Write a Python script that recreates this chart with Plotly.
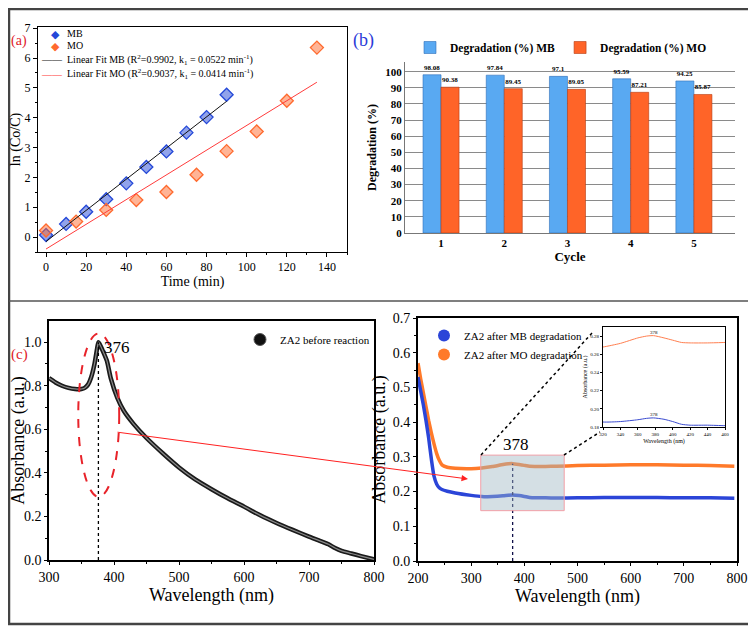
import plotly.graph_objects as go

# The page body adds an 8 px margin, so the figure is 748x619 and every
# reference pixel position p maps to figure pixel p - 8.
OFF = 8
W, H = 756 - OFF, 627 - OFF
def X(p): return (p - OFF) / W
def Y(p): return 1 - (p - OFF) / H

FONT = "Liberation Serif"
def F(size, color="black", weight=None):
    d = dict(family=FONT, size=size, color=color)
    if weight:
        d["weight"] = weight
    return d

# ---------------- (a) kinetics data ----------------
time_mb = [0, 10, 20, 30, 40, 50, 60, 70, 80, 90]
ln_mb = [0.07, 0.44, 0.85, 1.27, 1.80, 2.35, 2.87, 3.50, 4.02, 4.77]
time_mo = [0, 15, 30, 45, 60, 75, 90, 105, 120, 135]
ln_mo = [0.22, 0.52, 0.91, 1.24, 1.51, 2.09, 2.88, 3.54, 4.57, 6.35]
fit_mb_t = [0, 90]
fit_mb_y = [-0.15, 4.55]
fit_mo_t = [0, 135]
fit_mo_y = [-0.40, 5.19]
ln_ticks = [0, 1, 2, 3, 4, 5, 6, 7]

# ---------------- (b) recycling data ----------------
cycles = [1, 2, 3, 4, 5]
deg_mb = [98.08, 97.84, 97.1, 95.59, 94.25]
deg_mo = [90.38, 89.45, 89.05, 87.21, 85.87]

# ---------------- (c) UV-vis data ----------------
wl_before = [300, 310, 320, 330, 340, 350, 355, 360, 365, 370, 374, 376, 378, 382, 389,
             395, 405, 415, 430, 450, 475, 500, 525, 550, 575, 600, 625, 650, 675, 700,
             715, 730, 740, 750, 765, 780, 800]
abs_before = [0.835, 0.815, 0.800, 0.790, 0.785, 0.785, 0.790, 0.805, 0.840, 0.900, 0.970,
              1.000, 0.990, 0.965, 0.915, 0.835, 0.745, 0.685, 0.625, 0.560, 0.490, 0.425,
              0.370, 0.325, 0.283, 0.245, 0.205, 0.170, 0.138, 0.107, 0.090, 0.072, 0.055,
              0.042, 0.030, 0.018, 0.003]
peak_before = 376
peak_before_abs = 1.0

wl_after = [200, 205, 210, 215, 220, 225, 230, 235, 240, 245, 255, 270, 300, 320, 340,
            360, 370, 378, 390, 400, 410, 420, 440, 460, 500, 550, 600, 650, 700, 750, 795]
abs_mb_after = [0.530, 0.490, 0.450, 0.405, 0.355, 0.295, 0.245, 0.222, 0.211, 0.206,
                0.201, 0.196, 0.189, 0.1855, 0.186, 0.188, 0.1895, 0.190, 0.1885, 0.186,
                0.183, 0.182, 0.182, 0.1815, 0.182, 0.183, 0.183, 0.183, 0.182, 0.182, 0.181]
abs_mo_after = [0.570, 0.525, 0.485, 0.445, 0.405, 0.370, 0.338, 0.310, 0.290, 0.277,
                0.270, 0.267, 0.266, 0.268, 0.272, 0.278, 0.280, 0.2805, 0.278, 0.2755,
                0.273, 0.2725, 0.2725, 0.273, 0.275, 0.276, 0.277, 0.277, 0.276, 0.275, 0.273]
peak_after = 378
peak_after_abs = 0.28
zoom_box_x = [318, 475]
zoom_box_y = [0.145, 0.305]

C_MB = "#2448d8"
C_MO = "#ff6a2e"

fig = go.Figure()

# ---- (a) ----
fig.add_trace(go.Scatter(x=time_mb, y=ln_mb, mode="markers", xaxis="x", yaxis="y",
                         marker=dict(symbol="diamond", size=10, color="rgba(36,72,216,0.5)",
                                     line=dict(color=C_MB, width=1.3)), showlegend=False))
fig.add_trace(go.Scatter(x=time_mo, y=ln_mo, mode="markers", xaxis="x", yaxis="y",
                         marker=dict(symbol="diamond", size=10, color="rgba(255,106,46,0.5)",
                                     line=dict(color=C_MO, width=1.3)), showlegend=False))
fig.add_trace(go.Scatter(x=fit_mb_t, y=fit_mb_y, mode="lines", xaxis="x", yaxis="y",
                         line=dict(color="#111", width=1), showlegend=False))
fig.add_trace(go.Scatter(x=fit_mo_t, y=fit_mo_y, mode="lines", xaxis="x", yaxis="y",
                         line=dict(color="#ff3b3b", width=1), showlegend=False))

# ---- (b) ----
fig.add_trace(go.Bar(x=cycles, y=deg_mb, xaxis="x2", yaxis="y2", name="<b>Degradation (%) MB</b>",
                     marker=dict(color="#59a9f2", line=dict(color="#2f6fb8", width=0.6)),
                     text=[str(v) for v in deg_mb], textposition="outside", cliponaxis=False,
                     textfont=F(7, weight="bold"), legend="legend"))
fig.add_trace(go.Bar(x=cycles, y=deg_mo, xaxis="x2", yaxis="y2", name="<b>Degradation (%) MO</b>",
                     marker=dict(color="#ff6428", line=dict(color="#b53a10", width=0.6)),
                     text=[str(v) for v in deg_mo], textposition="outside", cliponaxis=False,
                     textfont=F(7, weight="bold"), legend="legend"))

# ---- (c) left ----
fig.add_trace(go.Scatter(x=wl_before, y=abs_before, mode="lines", xaxis="x3", yaxis="y3",
                         line=dict(color="#1a1a1a", width=4.5, shape="spline", smoothing=0.6),
                         showlegend=False))
fig.add_trace(go.Scatter(x=wl_before, y=abs_before, mode="lines", xaxis="x3", yaxis="y3",
                         line=dict(color="#8a8a8a", width=1.2, shape="spline", smoothing=0.6),
                         showlegend=False))
fig.add_trace(go.Scatter(x=[None], y=[None], mode="markers", xaxis="x3", yaxis="y3",
                         name="ZA2 before reaction", legend="legend2",
                         marker=dict(size=12, color="#111", line=dict(color="#555", width=1))))

# ---- (c) right ----
fig.add_trace(go.Scatter(x=wl_after, y=abs_mo_after, mode="lines", xaxis="x4", yaxis="y4",
                         line=dict(color="#ff7a2a", width=3.5, shape="spline", smoothing=0.5),
                         showlegend=False))
fig.add_trace(go.Scatter(x=wl_after, y=abs_mb_after, mode="lines", xaxis="x4", yaxis="y4",
                         line=dict(color="#2b45d8", width=3.5, shape="spline", smoothing=0.5),
                         showlegend=False))
fig.add_trace(go.Scatter(x=[None], y=[None], mode="markers", xaxis="x4", yaxis="y4",
                         name="ZA2 after MB degradation", legend="legend3",
                         marker=dict(size=12, color="#2b45d8")))
fig.add_trace(go.Scatter(x=[None], y=[None], mode="markers", xaxis="x4", yaxis="y4",
                         name="ZA2 after MO degradation", legend="legend3",
                         marker=dict(size=12, color="#ff7a2a")))

# ---- inset ----
fig.add_trace(go.Scatter(x=wl_after, y=abs_mo_after, mode="lines", xaxis="x5", yaxis="y5",
                         line=dict(color="#ff7f50", width=1, shape="spline", smoothing=0.6),
                         showlegend=False))
fig.add_trace(go.Scatter(x=wl_after, y=abs_mb_after, mode="lines", xaxis="x5", yaxis="y5",
                         line=dict(color="#3a4bd0", width=1, shape="spline", smoothing=0.6),
                         showlegend=False))

frame = dict(showline=True, linecolor="black", mirror=True, ticks="outside",
             tickcolor="black", showgrid=False, zeroline=False, automargin=False,
             ticklabeloverflow="allow")

fig.update_layout(
    template="none",
    width=W, height=H, autosize=False,
    margin=dict(l=0, r=0, t=0, b=0, pad=0),
    paper_bgcolor="white", plot_bgcolor="white",
    font=F(12),
    bargap=0.43, bargroupgap=0, barmode="group",
    xaxis=dict(domain=[X(38), X(347)], anchor="y", range=[-4, 150], dtick=20, tick0=0,
               ticklen=4, linewidth=1, tickfont=F(12),
               minor=dict(dtick=10, ticklen=2, ticks="outside", tickcolor="black"),
               title=dict(text="Time (min)", font=F(14), standoff=2), **frame),
    yaxis=dict(domain=[Y(252), Y(27)], anchor="x", range=[-0.5, 7.04],
               tickmode="array", tickvals=ln_ticks, ticktext=[str(t) for t in ln_ticks],
               ticklen=4, linewidth=1, tickfont=F(12),
               minor=dict(dtick=0.5, ticklen=2, ticks="outside", tickcolor="black"),
               title=dict(text="ln (Co/C)", font=F(14), standoff=5), **frame),
    xaxis2=dict(domain=[X(405), X(735)], anchor="y2", range=[0.43, 5.65],
                tickvals=cycles, ticktext=[str(c) for c in cycles],
                tickfont=F(11, weight="bold"), showline=True, linecolor="#777",
                showgrid=False, zeroline=False, ticks="", automargin=False,
                title=dict(text="<b>Cycle</b>", font=F(13), standoff=2)),
    yaxis2=dict(domain=[Y(233), Y(62)], anchor="x2", range=[0, 106], dtick=10,
                tickfont=F(11, weight="bold"), showline=True, linecolor="#777",
                showgrid=True, gridcolor="#8a8a8a", gridwidth=1, zeroline=False, ticks="",
                automargin=False,
                title=dict(text="<b>Degradation (%)</b>", font=F(12), standoff=6)),
    xaxis3=dict(domain=[X(49), X(374)], anchor="y3", range=[300, 800], dtick=100,
                ticklen=3, linewidth=1.5, tickfont=F(14),
                minor=dict(dtick=50, ticklen=2, ticks="outside", tickcolor="black"),
                title=dict(text="Wavelength (nm)", font=F(18), standoff=3), **frame),
    yaxis3=dict(domain=[Y(560), Y(321)], anchor="x3", range=[0, 1.097], dtick=0.2,
                tickformat=".1f", ticklen=3, linewidth=1.5, tickfont=F(14),
                minor=dict(dtick=0.1, ticklen=2, ticks="outside", tickcolor="black"),
                title=dict(text="Absorbance (a.u.)", font=F(18), standoff=3), **frame),
    xaxis4=dict(domain=[X(418), X(737)], anchor="y4", range=[200, 800], dtick=100,
                ticklen=3, linewidth=2, tickfont=F(14),
                minor=dict(dtick=50, ticklen=2, ticks="outside", tickcolor="black"),
                title=dict(text="Wavelength (nm)", font=F(18), standoff=3), **frame),
    yaxis4=dict(domain=[Y(561), Y(318)], anchor="x4", range=[0, 0.7], dtick=0.1,
                tickformat=".1f", ticklen=3, linewidth=2, tickfont=F(14),
                minor=dict(dtick=0.05, ticklen=2, ticks="outside", tickcolor="black"),
                title=dict(text="Absorbance (a.u.)", font=F(18), standoff=2), **frame),
    xaxis5=dict(domain=[X(603), X(725)], anchor="y5", range=[320, 460], dtick=20,
                ticklen=2, linewidth=1, tickfont=F(5),
                title=dict(text="Wavelength (nm)", font=F(6), standoff=2), **frame),
    yaxis5=dict(domain=[Y(427), Y(327)], anchor="x5", range=[0.18, 0.29], dtick=0.02,
                tickformat=".2f", ticklen=2, linewidth=1, tickfont=F(5),
                title=dict(text="Absorbance (a.u.)", font=F(6), standoff=2), **frame),
    legend=dict(orientation="h", x=X(410), y=Y(33), xanchor="left", yanchor="top",
                font=F(11.5), bgcolor="rgba(0,0,0,0)", traceorder="normal"),
    legend2=dict(x=X(240), y=Y(325), xanchor="left", yanchor="top",
                 font=F(11), bgcolor="rgba(0,0,0,0)"),
    legend3=dict(x=X(424), y=Y(321), xanchor="left", yanchor="top",
                 font=F(11), bgcolor="rgba(0,0,0,0)", traceorder="normal"),
)

shapes = [
    # outer frame and separator (kept inside the figure area)
    dict(type="rect", xref="paper", yref="paper", x0=X(9), x1=X(751), y0=Y(624), y1=Y(9),
         line=dict(color="#444", width=2.5)),
    dict(type="line", xref="paper", yref="paper", x0=X(9), x1=X(751), y0=Y(301), y1=Y(301),
         line=dict(color="#555", width=1.5)),
    # (c) left ellipse and dotted peak line
    dict(type="circle", xref="x3", yref="y3", x0=345, x1=408, y0=0.29, y1=1.04,
         line=dict(color="#e8232a", width=2, dash="dash")),
    dict(type="line", xref="x3", yref="y3", x0=peak_before, x1=peak_before, y0=0,
         y1=peak_before_abs, line=dict(color="black", width=1.3, dash="dot")),
    # (c) right zoom box and dotted peak line
    dict(type="line", xref="x4", yref="y4", x0=peak_after, x1=peak_after, y0=0,
         y1=peak_after_abs, line=dict(color="#10104a", width=1.3, dash="dot")),
    dict(type="rect", xref="x4", yref="y4", x0=zoom_box_x[0], x1=zoom_box_x[1],
         y0=zoom_box_y[0], y1=zoom_box_y[1], fillcolor="rgba(160,185,195,0.45)",
         line=dict(color="#f2a0a8", width=1), layer="above"),
    # connectors to inset
    dict(type="line", xref="paper", yref="paper", x0=X(481), y0=Y(455), x1=X(592), y1=Y(333),
         line=dict(color="black", width=1.5, dash="dot")),
    dict(type="line", xref="paper", yref="paper", x0=X(564), y0=Y(455), x1=X(600), y1=Y(432),
         line=dict(color="black", width=1.5, dash="dot")),
]
fig.update_layout(shapes=shapes)

def A(text, x, y, size, color="black", xanchor="center", xref="paper", yref="paper"):
    return dict(text=text, x=x, y=y, xref=xref, yref=yref, xanchor=xanchor,
                yanchor="middle", showarrow=False, font=F(size, color))

ann = [
    A("(a)", X(9), Y(41), 14, "#e0202a", "left"),
    A("(b)", X(351), Y(40), 18, "#2a3ad8", "left"),
    A("(c)", X(9), Y(355), 15, "#e0202a", "left"),
    # (a) legend
    A("◆", X(55), Y(34), 11, C_MB),
    A("◆", X(55), Y(46), 11, C_MO),
    A("——", X(52), Y(60), 10, "#111"),
    A("——", X(52), Y(74), 10, "#ff3b3b"),
    A("MB", X(65), Y(34), 10, xanchor="left"),
    A("MO", X(65), Y(46), 10, xanchor="left"),
    A("Linear Fit MB (R<sup>2</sup>=0.9902, k<sub>1</sub> = 0.0522 min<sup>-1</sup>)",
      X(65), Y(60), 10, xanchor="left"),
    A("Linear Fit MO (R<sup>2</sup>=0.9037, k<sub>1</sub> = 0.0414 min<sup>-1</sup>)",
      X(65), Y(74), 10, xanchor="left"),
    # peak labels
    A("376", peak_before + 6, 0.975, 17, xanchor="left", xref="x3", yref="y3"),
    A("378", 385, 0.335, 17, xref="x4", yref="y4"),
    A("378", peak_after, 0.2835, 5, xref="x5", yref="y5"),
    A("378", peak_after, 0.1935, 5, xref="x5", yref="y5"),
    # red arrow from left peak to right panel
    dict(text="", x=X(468), y=Y(479), xref="paper", yref="paper", ax=-352, ay=-47,
         showarrow=True, arrowhead=2, arrowsize=1.3, arrowwidth=1, arrowcolor="#ff2020"),
]
fig.update_layout(annotations=ann)

fig.write_html("out.html")
